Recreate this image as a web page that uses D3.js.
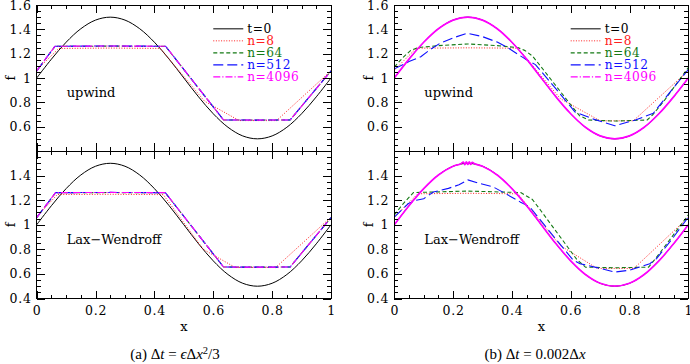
<!DOCTYPE html>
<html><head><meta charset="utf-8">
<script src="https://cdn.jsdelivr.net/npm/d3@7"></script>
<style>
body{margin:0;background:#fff}
svg{display:block}
.tick text{font-family:"DejaVu Serif";font-size:12.5px;letter-spacing:0.8px;fill:#000}
.lbl{font-family:"DejaVu Serif";font-size:13px;fill:#000}
</style></head><body><svg id="c" width="690" height="364"></svg>
<script>
// ---------------- data ----------------
const xTickLabels = [0, 0.2, 0.4, 0.6, 0.8, 1];
const yTickLabelsUpper = [0.6, 0.8, 1, 1.2, 1.4, 1.6];
const yTickLabelsLower = [0.4, 0.6, 0.8, 1, 1.2, 1.4];
const legendLabels = ["t=0", "n=8", "n=64", "n=512", "n=4096"];
const schemeLabels = ["upwind", "Lax\u2212Wendroff"];

// t=0 initial profile
const sineX = [0,0.05,0.1,0.15,0.2,0.25,0.3,0.35,0.4,0.45,0.5,0.55,0.6,0.65,0.7,0.75,0.8,0.85,0.9,0.95,1];
const sineF = [1,1.155,1.294,1.405,1.476,1.5,1.476,1.405,1.294,1.155,1,0.845,0.706,0.595,0.524,0.5,0.524,0.595,0.706,0.845,1];

// (a) dt = eps dx^2/3, upwind
const aUp_n8    = [[0,1.065],[0.075,1.243],[0.25,1.246],[0.42,1.243],[0.57,0.81],[0.688,0.65],[0.815,0.65],[1,1.06]];
const aUp_n64   = [[0,1.058],[0.062,1.26],[0.25,1.262],[0.438,1.26],[0.635,0.655],[0.75,0.654],[0.861,0.655],[1,1.058]];
const aUp_n512  = [[0,1.058],[0.062,1.261],[0.25,1.263],[0.438,1.261],[0.635,0.655],[0.75,0.654],[0.861,0.655],[1,1.058]];
const aUp_n4096 = [[0,1.058],[0.062,1.261],[0.25,1.263],[0.438,1.261],[0.635,0.655],[0.75,0.654],[0.861,0.655],[1,1.058]];
// (a) Lax-Wendroff
const aLw_n8    = [[0,1.064],[0.07,1.246],[0.25,1.248],[0.43,1.245],[0.566,0.8],[0.675,0.652],[0.812,0.652],[1,1.062]];
const aLw_n64   = [[0,1.058],[0.064,1.26],[0.25,1.262],[0.437,1.26],[0.635,0.656],[0.75,0.655],[0.861,0.656],[1,1.058]];
const aLw_n512  = [[0,1.058],[0.064,1.261],[0.25,1.263],[0.437,1.261],[0.635,0.656],[0.75,0.655],[0.861,0.656],[1,1.058]];
const aLw_n4096 = [[0,1.058],[0.064,1.261],[0.25,1.263],[0.437,1.261],[0.635,0.656],[0.75,0.655],[0.861,0.656],[1,1.058]];

// (b) dt = 0.002 dx, upwind
const bUp_n8    = [[0,1.065],[0.075,1.245],[0.25,1.248],[0.42,1.245],[0.565,0.83],[0.70,0.648],[0.813,0.648],[1,1.06]];
const bUp_n64   = [[0,1.09],[0.03,1.17],[0.055,1.225],[0.08,1.25],[0.15,1.266],[0.25,1.28],[0.35,1.266],[0.42,1.25],[0.445,1.225],[0.47,1.18],[0.5,1.09],[0.6,0.78],[0.63,0.69],[0.66,0.655],[0.75,0.646],[0.86,0.655],[0.88,0.70],[0.92,0.82],[1,1.085]];
const bUp_n512  = [[0,1.075],[0.05,1.135],[0.09,1.175],[0.12,1.23],[0.155,1.285],[0.2,1.33],[0.248,1.368],[0.3,1.34],[0.35,1.295],[0.388,1.246],[0.445,1.157],[0.48,1.11],[0.55,0.91],[0.615,0.72],[0.68,0.66],[0.75,0.607],[0.82,0.655],[0.881,0.71],[0.94,0.89],[1,1.07]];
const bUp_n4096X = [0,0.05,0.1,0.15,0.2,0.25,0.3,0.35,0.4,0.45,0.5,0.55,0.6,0.65,0.7,0.75,0.8,0.85,0.9,0.95,1];
const bUp_n4096F = [1,1.155,1.294,1.405,1.476,1.5,1.476,1.405,1.294,1.155,1,0.845,0.706,0.595,0.524,0.5,0.524,0.595,0.706,0.845,1];
// (b) Lax-Wendroff
const bLw_n8    = [[0,1.062],[0.08,1.252],[0.25,1.256],[0.42,1.252],[0.565,0.83],[0.69,0.645],[0.815,0.645],[1,1.06]];
const bLw_n64   = [[0,1.08],[0.03,1.17],[0.065,1.262],[0.25,1.274],[0.43,1.262],[0.47,1.205],[0.5,1.11],[0.62,0.72],[0.65,0.655],[0.75,0.65],[0.865,0.655],[0.9,0.76],[1,1.08]];
const bLw_n512  = [[0,1.062],[0.048,1.173],[0.075,1.2],[0.1,1.212],[0.133,1.266],[0.184,1.296],[0.22,1.325],[0.25,1.365],[0.29,1.336],[0.337,1.307],[0.377,1.255],[0.428,1.186],[0.461,1.145],[0.53,0.94],[0.609,0.71],[0.632,0.683],[0.7,0.645],[0.75,0.615],[0.8,0.63],[0.869,0.683],[0.892,0.724],[0.95,0.9],[1,1.062]];
const bLw_n4096X = [0,0.05,0.1,0.15,0.2,0.225,0.235,0.24,0.245,0.25,0.255,0.26,0.265,0.275,0.3,0.35,0.4,0.45,0.5,0.55,0.6,0.65,0.7,0.75,0.8,0.85,0.9,0.95,1];
const bLw_n4096F = [1,1.155,1.294,1.405,1.476,1.494,1.51,1.488,1.512,1.49,1.512,1.49,1.508,1.494,1.476,1.405,1.294,1.155,1,0.845,0.706,0.595,0.524,0.5,0.524,0.595,0.706,0.845,1];

// ---------------- styles ----------------
const styles = [
  {color:"#000000", dash:null, width:1},
  {color:"#ff2020", dash:"1,1.6", width:1},
  {color:"#157a15", dash:"4,2.5", width:1.1},
  {color:"#1010ff", dash:"10,4", width:1.1},
  {color:"#ff00ff", dash:"7,2,1.2,2", width:1.1}
];

const svg = d3.select("#c");
const cols = [{x0:36.7, x1:331}, {x0:394.3, x1:688.3}];
const rows = [{top:5, bot:151}, {top:151, bot:298.5}];

const zip = (xs, fs) => xs.map((v,i)=>[v, fs[i]]);
const sine = zip(sineX, sineF);

const panels = [
  {c:0, r:0, label:0, legend:true,  series:[sine, aUp_n8, aUp_n64, aUp_n512, aUp_n4096], solidMag:false},
  {c:0, r:1, label:1, legend:false, series:[sine, aLw_n8, aLw_n64, aLw_n512, aLw_n4096], solidMag:false},
  {c:1, r:0, label:0, legend:true,  series:[sine, bUp_n8, bUp_n64, bUp_n512, zip(bUp_n4096X,bUp_n4096F)], solidMag:true},
  {c:1, r:1, label:1, legend:false, series:[sine, bLw_n8, bLw_n64, bLw_n512, zip(bLw_n4096X,bLw_n4096F)], solidMag:true}
];

const fmt = v => String(+v.toFixed(2));
const yMajor = [0.4,0.6,0.8,1,1.2,1.4,1.6];
const yMinor = d3.range(0.4, 1.6001, 0.05);
const xMajor = xTickLabels;
const xMinor = d3.range(0, 1.0001, 0.05);

panels.forEach(p => {
  const col = cols[p.c], row = rows[p.r];
  const x = d3.scaleLinear().domain([0,1]).range([col.x0, col.x1]);
  const y = d3.scaleLinear().domain([0.4,1.6]).range([row.bot, row.top]);
  const g = svg.append("g");
  const clipId = "clip"+p.c+p.r;
  svg.append("clipPath").attr("id", clipId).append("rect")
    .attr("x", col.x0).attr("y", row.top).attr("width", col.x1-col.x0).attr("height", row.bot-row.top);

  // curves
  const lineSmooth = d3.line().x(d=>x(d[0])).y(d=>y(d[1])).curve(d3.curveCatmullRom.alpha(0.5));
  const lineLin = d3.line().x(d=>x(d[0])).y(d=>y(d[1]));
  const cg = g.append("g").attr("clip-path", `url(#${clipId})`);
  p.series.forEach((s, i) => {
    const st = styles[i];
    const smooth = (i === 0) || (i === 4 && p.solidMag);
    const path = cg.append("path").attr("d", (smooth ? lineSmooth : lineLin)(s))
      .attr("fill","none").attr("stroke", st.color).attr("stroke-width", st.width)
      .attr("stroke-linejoin","round");
    if (i === 4 && p.solidMag) path.attr("stroke-width", 1.7);
    else if (st.dash) path.attr("stroke-dasharray", st.dash);
  });

  const labelsY = p.r === 0 ? yTickLabelsUpper : yTickLabelsLower;
  const clean = sel => { sel.select(".domain").remove(); sel.selectAll(".tick line").attr("stroke","#000").attr("shape-rendering","crispEdges"); };
  // left
  g.append("g").attr("transform",`translate(${col.x0},0)`)
    .call(d3.axisLeft(y).tickValues(yMajor).tickSize(-8).tickPadding(5)
      .tickFormat(v => labelsY.some(l=>Math.abs(l-v)<1e-6) ? fmt(v) : "")).call(clean);
  g.append("g").attr("transform",`translate(${col.x0},0)`)
    .call(d3.axisLeft(y).tickValues(yMinor).tickSize(-4).tickFormat("")).call(clean);
  // right
  g.append("g").attr("transform",`translate(${col.x1},0)`)
    .call(d3.axisRight(y).tickValues(yMajor).tickSize(-8).tickFormat("")).call(clean);
  g.append("g").attr("transform",`translate(${col.x1},0)`)
    .call(d3.axisRight(y).tickValues(yMinor).tickSize(-4).tickFormat("")).call(clean);
  // top
  g.append("g").attr("transform",`translate(0,${row.top})`)
    .call(d3.axisTop(x).tickValues(xMajor).tickSize(-8).tickFormat("")).call(clean);
  g.append("g").attr("transform",`translate(0,${row.top})`)
    .call(d3.axisTop(x).tickValues(xMinor).tickSize(-4).tickFormat("")).call(clean);
  // bottom
  g.append("g").attr("transform",`translate(0,${row.bot})`)
    .call(d3.axisBottom(x).tickValues(xMajor).tickSize(-8).tickPadding(8)
      .tickFormat(p.r === 1 ? fmt : "")).call(clean);
  g.append("g").attr("transform",`translate(0,${row.bot})`)
    .call(d3.axisBottom(x).tickValues(xMinor).tickSize(-4).tickFormat("")).call(clean);

  // frame
  g.append("rect").attr("x", col.x0).attr("y", row.top).attr("width", col.x1-col.x0).attr("height", row.bot-row.top)
    .attr("fill","none").attr("stroke","#000").attr("stroke-width",1).attr("shape-rendering","crispEdges");

  // scheme label
  g.append("text").attr("class","lbl").attr("x", col.x0+30).attr("y", y(0.84))
    .text(schemeLabels[p.label]);

  // y label
  g.append("text").attr("class","lbl")
    .attr("transform",`translate(${col.x0-26},${y(1)}) rotate(-90)`)
    .attr("text-anchor","middle").attr("dy","0.35em").text("f");

  if (p.r === 1) {
    g.append("text").attr("class","lbl").attr("x",(col.x0+col.x1)/2).attr("y",331)
      .attr("text-anchor","middle").text("x");
  }

  if (p.legend) {
    const lx = x(0.6);
    legendLabels.forEach((t, i) => {
      const ly = y(1.4) - 0.5 + i*12;
      const st = styles[i];
      const l = g.append("line").attr("x1",lx).attr("x2",lx+30).attr("y1",ly).attr("y2",ly)
        .attr("stroke",st.color).attr("stroke-width",st.width);
      if (st.dash) l.attr("stroke-dasharray", st.dash);
      g.append("text").attr("class","lbl").attr("x",lx+34).attr("y",ly+4.4)
        .style("fill", st.color).style("font-size","12.2px").style("letter-spacing","0.5px").text(t);
    });
  }
});

// captions
function caption(cx, parts) {
  const t = svg.append("text").attr("x",cx).attr("y",359).attr("text-anchor","middle")
    .style("font-family","'Liberation Serif'").style("font-size","15px");
  parts.forEach(pt => {
    const ts = t.append("tspan").text(pt.t);
    if (pt.i) ts.style("font-style","italic");
    if (pt.sup) ts.attr("dy","-5").style("font-size","10.5px");
    if (pt.down) ts.attr("dy","5");
  });
}
caption(175, [{t:"(a)  \u0394"},{t:"t",i:1},{t:" = "},{t:"\u03F5",i:1},{t:"\u0394"},{t:"x",i:1},{t:"2",sup:1},{t:"/3",down:1}]);
caption(535, [{t:"(b)  \u0394"},{t:"t",i:1},{t:" = 0.002\u0394"},{t:"x",i:1}]);
</script></body></html>
